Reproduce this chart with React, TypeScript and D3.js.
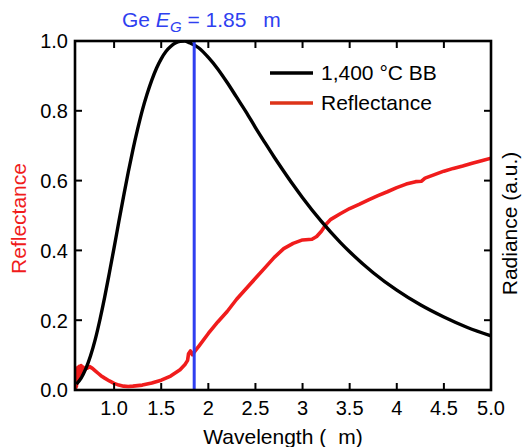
import React from "react";
import * as d3 from "d3";

// Data
const bbWavelength = [0.6, 0.65, 0.7, 0.75, 0.8, 0.85, 0.9, 0.95, 1.0, 1.05, 1.1, 1.15, 1.2, 1.25, 1.3, 1.35, 1.4, 1.45, 1.5, 1.55, 1.6, 1.65, 1.7, 1.75, 1.8, 1.9, 2.0, 2.1, 2.2, 2.3, 2.4, 2.5, 2.6, 2.7, 2.8, 2.9, 3.0, 3.2, 3.4, 3.5, 3.75, 4.0, 4.25, 4.5, 4.75, 5.0];
const bbRadiance = [0.017, 0.034, 0.061, 0.098, 0.145, 0.202, 0.266, 0.336, 0.408, 0.482, 0.554, 0.624, 0.689, 0.748, 0.802, 0.848, 0.888, 0.922, 0.949, 0.970, 0.984, 0.994, 0.999, 1.0, 0.995, 0.980, 0.953, 0.920, 0.881, 0.839, 0.797, 0.752, 0.709, 0.667, 0.627, 0.588, 0.551, 0.483, 0.423, 0.396, 0.336, 0.286, 0.244, 0.209, 0.179, 0.155];

const reflWavelength = [0.59, 0.595, 0.6, 0.605, 0.61, 0.615, 0.62, 0.63, 0.64, 0.65, 0.66, 0.67, 0.69, 0.71, 0.74, 0.77, 0.8, 0.83, 0.86, 0.9, 0.95, 1.0, 1.05, 1.1, 1.15, 1.2, 1.3, 1.4, 1.5, 1.6, 1.7, 1.75, 1.78, 1.79, 1.81, 1.83, 1.86, 1.9, 2.0, 2.1, 2.2, 2.3, 2.4, 2.5, 2.6, 2.7, 2.8, 2.9, 3.0, 3.1, 3.15, 3.2, 3.25, 3.3, 3.4, 3.5, 3.6, 3.7, 3.8, 3.9, 4.0, 4.1, 4.2, 4.26, 4.3, 4.4, 4.5, 4.6, 4.7, 4.8, 4.9, 5.0];
const reflValue = [0.0, 0.05, 0.01, 0.06, 0.02, 0.065, 0.03, 0.068, 0.045, 0.07, 0.052, 0.066, 0.06, 0.062, 0.067, 0.062, 0.055, 0.048, 0.041, 0.034, 0.026, 0.019, 0.014, 0.011, 0.01, 0.011, 0.014, 0.02, 0.028, 0.04, 0.058, 0.072, 0.085, 0.104, 0.112, 0.101, 0.112, 0.126, 0.162, 0.195, 0.225, 0.26, 0.29, 0.32, 0.35, 0.38, 0.405, 0.42, 0.43, 0.432, 0.44, 0.455, 0.475, 0.489, 0.505, 0.52, 0.532, 0.545, 0.557, 0.568, 0.58, 0.59, 0.597, 0.598, 0.607, 0.617, 0.627, 0.635, 0.642, 0.65, 0.657, 0.664];

const xTicks = [1.0, 1.5, 2, 2.5, 3, 3.5, 4, 4.5, 5.0];
const xTickLabels = ["1.0", "1.5", "2", "2.5", "3", "3.5", "4", "4.5", "5.0"];
const yTicks = [0, 0.2, 0.4, 0.6, 0.8, 1.0];
const yTickLabels = ["0.0", "0.2", "0.4", "0.6", "0.8", "1.0"];
const bandGap = 1.85;

const W = 522, H = 447;
const L = 75, R = 491, T = 41, B = 390;
const FONT = "'Liberation Sans', Arial, Helvetica, sans-serif";
const RED = "#f01c1c";
const BLUE = "#2f3ff0";

export default function App() {
  const x = d3.scaleLinear().domain([0.585, 5.0]).range([L, R]);
  const y = d3.scaleLinear().domain([0, 1]).range([B, T]);

  const bb = d3.line<number>().x((d, i) => x(bbWavelength[i])).y((d) => y(d)).curve(d3.curveMonotoneX)(bbRadiance) || "";
  const refl = d3.line<number>().x((d, i) => x(reflWavelength[i])).y((d) => y(d)).curve(d3.curveLinear)(reflValue) || "";
  const tl = 7;

  return (
    <svg width={W} height={H} style={{ position: "absolute", left: 0, top: 0, background: "#fff" }} fontFamily={FONT}>
      <defs>
        <clipPath id="plot">
          <rect x={L} y={T} width={R - L} height={B - T} />
        </clipPath>
      </defs>
      {/* title */}
      <text x={122} y={27} fontSize={21} fill={BLUE}>
        Ge <tspan fontStyle="italic">E</tspan>
        <tspan fontStyle="italic" fontSize={15} dy={5}>G</tspan>
        <tspan dy={-5}> = 1.85</tspan>
        <tspan dx={17}>m</tspan>
      </text>
      {/* curves */}
      <g clipPath="url(#plot)">
        <path d={refl} fill="none" stroke={RED} strokeWidth={3.6} strokeLinejoin="round" />
        <path d={bb} fill="none" stroke="#000" strokeWidth={3.4} />
        <line x1={x(bandGap)} x2={x(bandGap)} y1={T} y2={B} stroke={BLUE} strokeWidth={3} />
      </g>
      {/* frame */}
      <rect x={L} y={T} width={R - L} height={B - T} fill="none" stroke="#000" strokeWidth={2.6} />
      {/* x ticks */}
      {xTicks.map((t, i) => (
        <g key={"x" + i}>
          <line x1={x(t)} x2={x(t)} y1={B} y2={B - tl} stroke="#000" strokeWidth={2} />
          <line x1={x(t)} x2={x(t)} y1={T} y2={T + tl} stroke="#000" strokeWidth={2} />
          <text x={x(t)} y={415} fontSize={20} textAnchor="middle" fill="#000">{xTickLabels[i]}</text>
        </g>
      ))}
      {/* y ticks */}
      {yTicks.map((t, i) => (
        <g key={"y" + i}>
          <line x1={L} x2={L + tl} y1={y(t)} y2={y(t)} stroke="#000" strokeWidth={2} />
          <line x1={R} x2={R - tl} y1={y(t)} y2={y(t)} stroke="#000" strokeWidth={2} />
          <text x={68} y={y(t) + 7.3} fontSize={20} textAnchor="end" fill="#000">{yTickLabels[i]}</text>
        </g>
      ))}
      {/* axis titles */}
      <text x={(L + R) / 2 + 0} y={444} fontSize={21} textAnchor="middle" fill="#000">
        Wavelength (<tspan dx={12}>m)</tspan>
      </text>
      <text transform={`translate(26,${(T + B) / 2 + 3}) rotate(-90)`} fontSize={21} textAnchor="middle" fill={RED}>Reflectance</text>
      <text transform={`translate(517,${(T + B) / 2 + 8}) rotate(-90)`} fontSize={21} textAnchor="middle" fill="#000">Radiance (a.u.)</text>
      {/* legend */}
      <line x1={270} x2={313} y1={73} y2={73} stroke="#000" strokeWidth={3.4} />
      <text x={321} y={80} fontSize={21} fill="#000">1,400 °C BB</text>
      <line x1={270} x2={313} y1={103} y2={103} stroke="#dd3318" strokeWidth={3.4} />
      <text x={321} y={110} fontSize={21} fill="#000">Reflectance</text>
    </svg>
  );
}
